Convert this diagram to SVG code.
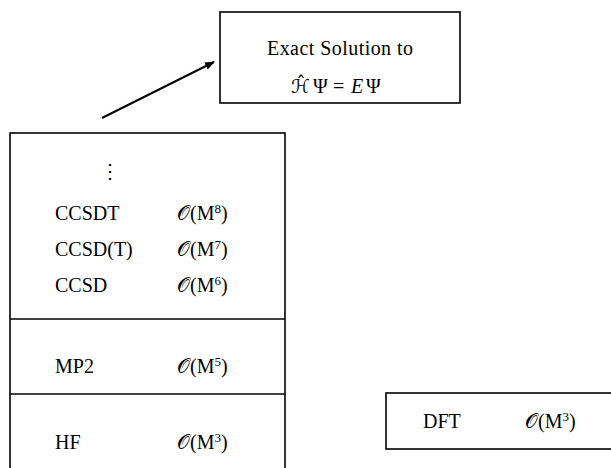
<svg xmlns="http://www.w3.org/2000/svg" width="611" height="468" viewBox="0 0 611 468">
<style>
.box{fill:#fff;stroke:#000;stroke-width:1.6}
.t{font-family:"Liberation Serif","DejaVu Serif",serif;font-size:20px;fill:#000}
.cal{font-family:"DejaVu Sans","Noto Sans",serif;font-style:normal}
.sup{font-size:13px}
.it{font-style:italic}
</style>
<defs>
<marker id="ah" viewBox="0 0 10 10" refX="9" refY="5" markerWidth="5" markerHeight="5" orient="auto" markerUnits="strokeWidth">
<path d="M0,1 L10,5 L0,9 Z" fill="#000"/>
</marker>
</defs>
<g id="connectors">
<line x1="102" y1="118" x2="214" y2="62" stroke="#000" stroke-width="2" marker-end="url(#ah)"/>
</g>
<g id="exact">
<rect class="box" x="220" y="12" width="240" height="91"/>
<text class="t" x="267" y="55" textLength="146" lengthAdjust="spacing">Exact Solution to</text>
<text class="t" y="93"><tspan class="cal" x="291" font-size="19">ℋ̂</tspan><tspan x="313">Ψ</tspan><tspan x="333">=</tspan><tspan class="it" x="351">E</tspan><tspan x="366">Ψ</tspan></text>
</g>
<g id="methods">
<rect class="box" x="10" y="133" width="275" height="345"/>
<line x1="10" y1="319" x2="285" y2="319" stroke="#000" stroke-width="1.6"/>
<line x1="10" y1="394" x2="285" y2="394" stroke="#000" stroke-width="1.6"/>
<text class="t" x="110" y="178" text-anchor="middle">⋮</text>
<text class="t" x="55" y="220">CCSDT</text>
<text class="t" x="177" y="220"><tspan class="cal">𝒪</tspan>(M<tspan class="sup" dy="-7">8</tspan><tspan dy="7">)</tspan></text>
<text class="t" x="55" y="256">CCSD(T)</text>
<text class="t" x="177" y="256"><tspan class="cal">𝒪</tspan>(M<tspan class="sup" dy="-7">7</tspan><tspan dy="7">)</tspan></text>
<text class="t" x="55" y="292">CCSD</text>
<text class="t" x="177" y="292"><tspan class="cal">𝒪</tspan>(M<tspan class="sup" dy="-7">6</tspan><tspan dy="7">)</tspan></text>
<text class="t" x="55" y="373">MP2</text>
<text class="t" x="177" y="373"><tspan class="cal">𝒪</tspan>(M<tspan class="sup" dy="-7">5</tspan><tspan dy="7">)</tspan></text>
<text class="t" x="55" y="449">HF</text>
<text class="t" x="177" y="449"><tspan class="cal">𝒪</tspan>(M<tspan class="sup" dy="-7">3</tspan><tspan dy="7">)</tspan></text>
</g>
<g id="dft">
<rect class="box" x="386" y="393" width="240" height="56"/>
<text class="t" x="423" y="428">DFT</text>
<text class="t" x="525" y="428"><tspan class="cal">𝒪</tspan>(M<tspan class="sup" dy="-7">3</tspan><tspan dy="7">)</tspan></text>
</g>
</svg>
